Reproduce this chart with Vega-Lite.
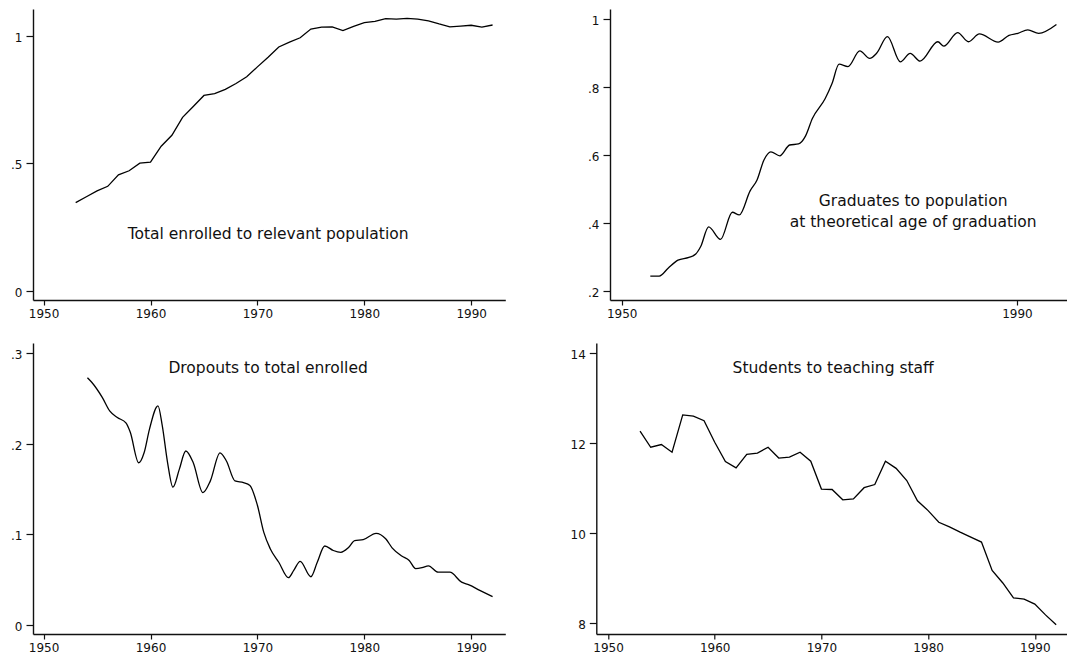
{
  "$schema": "https://vega.github.io/schema/vega-lite/v6.json",
  "padding": {"left": 10, "top": 9, "right": 0, "bottom": 0},
  "background": "white",
  "config": {
    "font": "DejaVu Sans",
    "view": {"stroke": null},
    "axis": {
      "grid": false,
      "domainColor": "#111",
      "domainWidth": 1.4,
      "tickColor": "#111",
      "tickWidth": 1.2,
      "labelFont": "DejaVu Sans",
      "labelFontSize": 12,
      "labelColor": "#111",
      "labelFlush": false,
      "labelOverlap": false,
      "labelBound": false
    },
    "axisX": {"tickSize": 5, "labelPadding": 3},
    "axisY": {"tickSize": 7, "labelPadding": 4, "labelOffset": 1.5},
    "line": {"color": "#000", "strokeWidth": 1.3},
    "text": {"font": "DejaVu Sans", "fontSize": 15.5, "color": "#111", "align": "center", "baseline": "alphabetic"}
  },
  "datasets": {
    "enrol": [
      {"year": 1953, "value": 0.346}, {"year": 1954, "value": 0.369}, {"year": 1955, "value": 0.392},
      {"year": 1956, "value": 0.410}, {"year": 1957, "value": 0.455}, {"year": 1958, "value": 0.471},
      {"year": 1959, "value": 0.501}, {"year": 1960, "value": 0.505}, {"year": 1961, "value": 0.567},
      {"year": 1962, "value": 0.610}, {"year": 1963, "value": 0.680}, {"year": 1964, "value": 0.723},
      {"year": 1965, "value": 0.766}, {"year": 1966, "value": 0.773}, {"year": 1967, "value": 0.790},
      {"year": 1968, "value": 0.813}, {"year": 1969, "value": 0.839}, {"year": 1970, "value": 0.878},
      {"year": 1971, "value": 0.916}, {"year": 1972, "value": 0.956}, {"year": 1973, "value": 0.975},
      {"year": 1974, "value": 0.992}, {"year": 1975, "value": 1.026}, {"year": 1976, "value": 1.034},
      {"year": 1977, "value": 1.035}, {"year": 1978, "value": 1.020}, {"year": 1979, "value": 1.037},
      {"year": 1980, "value": 1.051}, {"year": 1981, "value": 1.056}, {"year": 1982, "value": 1.067},
      {"year": 1983, "value": 1.065}, {"year": 1984, "value": 1.068}, {"year": 1985, "value": 1.065},
      {"year": 1986, "value": 1.058}, {"year": 1987, "value": 1.046}, {"year": 1988, "value": 1.035},
      {"year": 1989, "value": 1.038}, {"year": 1990, "value": 1.041}, {"year": 1991, "value": 1.034},
      {"year": 1992, "value": 1.042}
    ],
    "grads": [
      {"year": 1952.9, "value": 0.243}, {"year": 1953.8, "value": 0.243}, {"year": 1954.7, "value": 0.266},
      {"year": 1955.7, "value": 0.290}, {"year": 1956.8, "value": 0.298}, {"year": 1957.5, "value": 0.308},
      {"year": 1958.0, "value": 0.330}, {"year": 1958.8, "value": 0.388}, {"year": 1960.0, "value": 0.351},
      {"year": 1961.2, "value": 0.431}, {"year": 1961.9, "value": 0.423}, {"year": 1963.0, "value": 0.494},
      {"year": 1963.7, "value": 0.526}, {"year": 1964.4, "value": 0.585}, {"year": 1965.1, "value": 0.609},
      {"year": 1966.0, "value": 0.597}, {"year": 1967.0, "value": 0.629}, {"year": 1967.9, "value": 0.632},
      {"year": 1968.6, "value": 0.655}, {"year": 1969.3, "value": 0.707}, {"year": 1970.6, "value": 0.766},
      {"year": 1971.3, "value": 0.811}, {"year": 1972.0, "value": 0.867}, {"year": 1972.9, "value": 0.860},
      {"year": 1974.1, "value": 0.906}, {"year": 1975.1, "value": 0.884}, {"year": 1975.8, "value": 0.899},
      {"year": 1976.9, "value": 0.948}, {"year": 1978.2, "value": 0.874}, {"year": 1979.2, "value": 0.899},
      {"year": 1980.2, "value": 0.876}, {"year": 1982.0, "value": 0.933}, {"year": 1982.6, "value": 0.920},
      {"year": 1984.0, "value": 0.960}, {"year": 1985.1, "value": 0.933}, {"year": 1986.2, "value": 0.956},
      {"year": 1988.1, "value": 0.932}, {"year": 1989.2, "value": 0.952}, {"year": 1990.1, "value": 0.958},
      {"year": 1991.1, "value": 0.968}, {"year": 1992.2, "value": 0.958}, {"year": 1994.0, "value": 0.984}
    ],
    "dropouts": [
      {"year": 1954.1, "value": 0.273}, {"year": 1954.5, "value": 0.268}, {"year": 1955.5, "value": 0.251},
      {"year": 1956.2, "value": 0.236}, {"year": 1956.9, "value": 0.229}, {"year": 1957.7, "value": 0.223},
      {"year": 1958.1, "value": 0.213}, {"year": 1958.9, "value": 0.179}, {"year": 1959.4, "value": 0.190},
      {"year": 1959.9, "value": 0.216}, {"year": 1960.7, "value": 0.242}, {"year": 1961.1, "value": 0.220},
      {"year": 1961.6, "value": 0.179}, {"year": 1962.1, "value": 0.152}, {"year": 1962.7, "value": 0.172},
      {"year": 1963.3, "value": 0.192}, {"year": 1964.0, "value": 0.179}, {"year": 1964.9, "value": 0.146},
      {"year": 1965.6, "value": 0.159}, {"year": 1966.5, "value": 0.190}, {"year": 1967.1, "value": 0.181},
      {"year": 1967.9, "value": 0.159}, {"year": 1968.7, "value": 0.157}, {"year": 1969.3, "value": 0.154},
      {"year": 1970.0, "value": 0.132}, {"year": 1970.6, "value": 0.102}, {"year": 1971.2, "value": 0.084},
      {"year": 1972.0, "value": 0.069}, {"year": 1972.9, "value": 0.052}, {"year": 1973.4, "value": 0.060},
      {"year": 1974.0, "value": 0.070}, {"year": 1975.0, "value": 0.053}, {"year": 1975.6, "value": 0.069},
      {"year": 1976.3, "value": 0.087}, {"year": 1977.1, "value": 0.082}, {"year": 1977.8, "value": 0.080},
      {"year": 1978.5, "value": 0.085}, {"year": 1979.1, "value": 0.093}, {"year": 1979.9, "value": 0.094},
      {"year": 1981.1, "value": 0.101}, {"year": 1982.0, "value": 0.095}, {"year": 1982.6, "value": 0.085},
      {"year": 1983.5, "value": 0.076}, {"year": 1984.2, "value": 0.071}, {"year": 1984.8, "value": 0.062},
      {"year": 1985.4, "value": 0.063}, {"year": 1986.0, "value": 0.065}, {"year": 1986.9, "value": 0.058},
      {"year": 1988.0, "value": 0.058}, {"year": 1989.1, "value": 0.047}, {"year": 1989.8, "value": 0.044},
      {"year": 1990.8, "value": 0.038}, {"year": 1992.0, "value": 0.031}
    ],
    "staff": [
      {"year": 1953, "value": 12.27}, {"year": 1954, "value": 11.91}, {"year": 1955, "value": 11.97},
      {"year": 1956, "value": 11.80}, {"year": 1957, "value": 12.63}, {"year": 1958, "value": 12.60},
      {"year": 1959, "value": 12.50}, {"year": 1960, "value": 12.02}, {"year": 1961, "value": 11.59},
      {"year": 1962, "value": 11.45}, {"year": 1963, "value": 11.75}, {"year": 1964, "value": 11.78},
      {"year": 1965, "value": 11.91}, {"year": 1966, "value": 11.67}, {"year": 1967, "value": 11.69},
      {"year": 1968, "value": 11.80}, {"year": 1969, "value": 11.60}, {"year": 1970, "value": 10.98},
      {"year": 1971, "value": 10.97}, {"year": 1972, "value": 10.74}, {"year": 1973, "value": 10.76},
      {"year": 1974, "value": 11.01}, {"year": 1975, "value": 11.08}, {"year": 1976, "value": 11.60},
      {"year": 1977, "value": 11.44}, {"year": 1978, "value": 11.17}, {"year": 1979, "value": 10.72},
      {"year": 1980, "value": 10.50}, {"year": 1981, "value": 10.24}, {"year": 1982, "value": 10.14},
      {"year": 1983, "value": 10.02}, {"year": 1984, "value": 9.91}, {"year": 1985, "value": 9.80},
      {"year": 1986, "value": 9.17}, {"year": 1987, "value": 8.89}, {"year": 1988, "value": 8.56},
      {"year": 1989, "value": 8.53}, {"year": 1990, "value": 8.42}, {"year": 1991, "value": 8.18},
      {"year": 1992, "value": 7.96}
    ]
  },
  "spacing": 24,
  "vconcat": [
    {
      "bounds": "flush",
      "spacing": 104,
      "hconcat": [
        {
          "width": 472.3,
          "height": 291,
          "layer": [
            {
              "data": {"name": "enrol"},
              "mark": {"type": "line"},
              "encoding": {
                "x": {"field": "year", "type": "quantitative", "scale": {"domain": [1949.008, 1993.19], "nice": false, "zero": false},
                      "axis": {"title": null, "values": [1950, 1960, 1970, 1980, 1990], "format": "d"}},
                "y": {"field": "value", "type": "quantitative", "scale": {"domain": [-0.0353, 1.1047], "nice": false, "zero": false},
                      "axis": {"title": null, "values": [0, 0.5, 1], "labelExpr": "datum.value == 0 ? '0' : datum.value >= 1 ? format(datum.value, 'd') : substring(format(datum.value, '.1f'), 1)"}}
              }
            },
            {
              "data": {"values": [{"label": "Total enrolled to relevant population"}]},
              "mark": {"type": "text"},
              "encoding": {
                "x": {"datum": 1971.0, "type": "quantitative"},
                "y": {"datum": 0.2027, "type": "quantitative"},
                "text": {"field": "label"}
              }
            }
          ]
        },
        {
          "width": 458,
          "height": 291,
          "layer": [
            {
              "data": {"name": "grads"},
              "mark": {"type": "line", "interpolate": "monotone"},
              "encoding": {
                "x": {"field": "year", "type": "quantitative", "scale": {"domain": [1948.82, 1995.17], "nice": false, "zero": false},
                      "axis": {"title": null, "values": [1950, 1990], "format": "d"}},
                "y": {"field": "value", "type": "quantitative", "scale": {"domain": [0.1726, 1.0295], "nice": false, "zero": false},
                      "axis": {"title": null, "values": [0.2, 0.4, 0.6, 0.8, 1], "labelExpr": "datum.value == 0 ? '0' : datum.value >= 1 ? format(datum.value, 'd') : substring(format(datum.value, '.1f'), 1)"}}
              }
            },
            {
              "data": {"values": [{"label": ["Graduates to population", "at theoretical age of graduation"]}]},
              "mark": {"type": "text", "lineHeight": 21},
              "encoding": {
                "x": {"datum": 1979.5, "type": "quantitative"},
                "y": {"datum": 0.4503, "type": "quantitative"},
                "text": {"field": "label"}
              }
            }
          ]
        }
      ]
    },
    {
      "bounds": "flush",
      "spacing": 90.3,
      "hconcat": [
        {
          "width": 472.3,
          "height": 291,
          "layer": [
            {
              "data": {"name": "dropouts"},
              "mark": {"type": "line", "interpolate": "monotone"},
              "encoding": {
                "x": {"field": "year", "type": "quantitative", "scale": {"domain": [1949.008, 1993.19], "nice": false, "zero": false},
                      "axis": {"title": null, "values": [1950, 1960, 1970, 1980, 1990], "format": "d"}},
                "y": {"field": "value", "type": "quantitative", "scale": {"domain": [-0.0103, 0.3114], "nice": false, "zero": false},
                      "axis": {"title": null, "values": [0, 0.1, 0.2, 0.3], "labelExpr": "datum.value == 0 ? '0' : datum.value >= 1 ? format(datum.value, 'd') : substring(format(datum.value, '.1f'), 1)"}}
              }
            },
            {
              "data": {"values": [{"label": "Dropouts to total enrolled"}]},
              "mark": {"type": "text"},
              "encoding": {
                "x": {"datum": 1971.0, "type": "quantitative"},
                "y": {"datum": 0.2782, "type": "quantitative"},
                "text": {"field": "label"}
              }
            }
          ]
        },
        {
          "width": 471.7,
          "height": 291,
          "layer": [
            {
              "data": {"name": "staff"},
              "mark": {"type": "line"},
              "encoding": {
                "x": {"field": "year", "type": "quantitative", "scale": {"domain": [1948.9, 1993.11], "nice": false, "zero": false},
                      "axis": {"title": null, "values": [1950, 1960, 1970, 1980, 1990], "format": "d"}},
                "y": {"field": "value", "type": "quantitative", "scale": {"domain": [7.755, 14.229], "nice": false, "zero": false},
                      "axis": {"title": null, "values": [8, 10, 12, 14], "format": "d"}}
              }
            },
            {
              "data": {"values": [{"label": "Students to teaching staff"}]},
              "mark": {"type": "text"},
              "encoding": {
                "x": {"datum": 1971.1, "type": "quantitative"},
                "y": {"datum": 13.562, "type": "quantitative"},
                "text": {"field": "label"}
              }
            }
          ]
        }
      ]
    }
  ]
}
